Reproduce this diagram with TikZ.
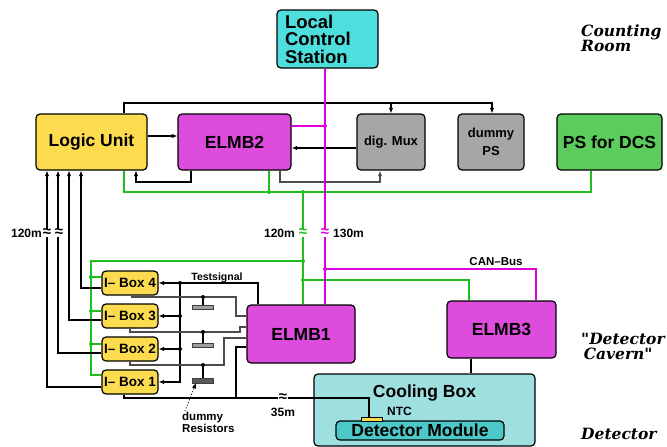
\documentclass[tikz,border=0pt]{standalone}
\usepackage{fontspec}
\setmainfont{Liberation Sans}
\newfontfamily\roomfont{DejaVu Serif}
\usetikzlibrary{arrows.meta}
\definecolor{cLCS}{RGB}{78,222,222}
\definecolor{cYel}{RGB}{252,220,78}
\definecolor{cMagF}{RGB}{222,76,222}
\definecolor{cGrayF}{RGB}{166,166,166}
\definecolor{cPS}{RGB}{92,204,92}
\definecolor{cCool}{RGB}{158,224,224}
\definecolor{cDM}{RGB}{76,200,200}
\definecolor{cGreenL}{RGB}{30,190,30}
\definecolor{cMagL}{RGB}{221,0,221}
\tikzset{
  box/.style={draw=black, line width=1.2pt, rounded corners=4pt, inner sep=0pt},
  fbig/.style={font=\fontsize{17.5}{17.5}\selectfont\bfseries},
  fmed/.style={font=\fontsize{13}{18}\selectfont\bfseries},
  fibox/.style={font=\fontsize{13.5}{13.5}\selectfont\bfseries},
  fsmall/.style={font=\fontsize{12}{12}\selectfont\bfseries},
  ftiny/.style={font=\fontsize{10.5}{11}\selectfont\bfseries},
  rlab/.style={font=\fontsize{15.5}{15}\selectfont\roomfont\bfseries\itshape, inner sep=0pt, align=left},
  lab/.style={inner sep=0pt},
  wire/.style={draw=black, line width=1.1pt},
  gwire/.style={draw=black!70, line width=1.1pt},
  gw/.style={draw=cGreenL, line width=1.5pt},
  mw/.style={draw=cMagL, line width=1.3pt},
  arr/.style={-{Latex[length=5.5pt,width=4.5pt]}},
  apx/.style={fill=white, inner xsep=0.5pt, inner ysep=0pt, font=\fontsize{15}{15}\selectfont\bfseries},
  res/.style={draw=black!75, line width=0.5pt, minimum width=21pt, minimum height=4.5pt, inner sep=0pt},
}
\begin{document}
\begin{tikzpicture}[x=1pt,y=-1pt]
\useasboundingbox (0,0) rectangle (667,447);

% boxes
\node[box, fill=cLCS, minimum width=101pt, minimum height=58pt, text width=85pt, align=left,
      font=\fontsize{18.5}{17.5}\selectfont\bfseries] (lcs) at (327.5,39) {Local\\Control\\Station};
\node[box, fill=cYel, minimum width=111pt, minimum height=56pt, fbig] (lu) at (91.5,142) {Logic Unit};
\node[box, fill=cMagF, minimum width=113pt, minimum height=56pt, fbig] (elmb2) at (234.5,142) {ELMB2\hspace{8pt}};
\node[box, fill=cGrayF, minimum width=68pt, minimum height=56pt, fmed] (digmux) at (391,142) {dig. Mux};
\node[box, fill=cGrayF, minimum width=66pt, minimum height=56pt, fmed, align=center] (dps) at (491,142) {dummy\\PS};
\node[box, fill=cPS, minimum width=105pt, minimum height=56pt, fbig] (psdcs) at (609.5,142) {PS for DCS};

\node[box, fill=cMagF, minimum width=108pt, minimum height=58pt, fbig] (elmb1) at (301,334) {ELMB1\hspace{8pt}};
\node[box, fill=cMagF, minimum width=109pt, minimum height=57pt, fbig] (elmb3) at (501.5,329.5) {ELMB3\hspace{22pt}};

\node[box, fill=cYel, minimum width=56pt, minimum height=24pt, fibox] (ib4) at (130,283) {I– Box 4};
\node[box, fill=cYel, minimum width=56pt, minimum height=24pt, fibox] (ib3) at (130,316) {I– Box 3};
\node[box, fill=cYel, minimum width=56pt, minimum height=24pt, fibox] (ib2) at (130,349) {I– Box 2};
\node[box, fill=cYel, minimum width=56pt, minimum height=24pt, fibox] (ib1) at (130,382) {I– Box 1};

\node[box, fill=cCool, minimum width=221pt, minimum height=72pt,
      label={[anchor=north, yshift=-8pt, fbig]north:Cooling Box}] (cool) at (424.5,410) {};
\node[box, fill=cDM, minimum width=168pt, minimum height=19pt, fbig] (dm) at (420,430.5) {Detector Module};
\node[draw=black, line width=0.6pt, fill=cYel, minimum width=21pt, minimum height=4pt, inner sep=0pt] (ntc) at (371.5,419) {};

\node[res, fill=black!38] (r1) at (202.5,307) {};
\node[res, fill=black!38] (r2) at (202.5,345) {};
\node[res, fill=black!65] (r3) at (202.5,380.5) {};

% labels
\node[lab, ftiny, anchor=base] (tsl) at (217,280) {Testsignal};
\node[lab, font=\fontsize{11.5}{11.5}\selectfont\bfseries, anchor=base] (canl) at (496,265) {CAN–Bus};
\node[lab, fsmall, anchor=base east] (l120a) at (42,237) {120m};
\node[lab, fsmall, anchor=base east] (l120b) at (295,237) {120m};
\node[lab, fsmall, anchor=base west] (l130) at (333,237) {130m};
\node[lab, fsmall, anchor=base] (l35) at (283,416) {35m};
\node[lab, fsmall, anchor=base west] (lntc) at (387,415) {NTC};
\node[lab, font=\fontsize{11.5}{10.5}\selectfont\bfseries, anchor=north west, align=left] (dres) at (182,412) {dummy\\Resistors};

\node[rlab, anchor=north west] (cr) at (581,25) {Counting\\Room};
\node[rlab, anchor=north west] (dc) at (581,333) {"Detector\\\,Cavern"};
\node[rlab, anchor=base west] (det) at (581,439) {Detector};

% top black bus
\draw[wire,arr] (lu.north -| 124,0) -- (124,103) -- (492,103) -- (dps.north -| 492,0);
\draw[wire,arr] (391,103) -- (digmux.north);
\draw[wire,arr] (lu.east |- 0,136) -- (elmb2.west |- 0,136);
\draw[wire,arr] (digmux.west |- 0,148) -- (elmb2.east |- 0,148);
\draw[wire,arr] (elmb2.south -| 191,0) -- (191,182) -- (136,182) -- (lu.south -| 136,0);
\draw[gwire,arr] (elmb2.south -| 280,0) -- (280,182) -- (380,182) -- (digmux.south -| 380,0);

% green power lines
\draw[gw] (lu.south -| 124,0) -- (124,192) -- (591,192) -- (psdcs.south -| 591,0);
\draw[gw] (elmb2.south -| 269,0) -- (269,192);
\draw[gw] (303,192) -- (elmb1.north -| 303,0);
\draw[gw] (303,261) -- (91,261) -- (91,375) -- (ib1.west |- 0,375);
\draw[gw] (91,277) -- (ib4.west |- 0,277);
\draw[gw] (91,311) -- (ib3.west |- 0,311);
\draw[gw] (91,344) -- (ib2.west |- 0,344);
\draw[gw] (303,280) -- (469,280) -- (elmb3.north -| 469,0);
\foreach \p in {(269,192),(303,192),(303,261),(303,280),(91,277),(91,311),(91,344)}
  \fill[cGreenL] \p circle[radius=2];

% magenta CAN bus
\draw[mw] (lcs.south -| 325,0) -- (elmb1.north -| 325,0);
\draw[mw] (elmb2.east |- 0,126) -- (325,126);
\draw[mw] (325,269) -- (536,269) -- (elmb3.north -| 536,0);
\foreach \p in {(325,126),(325,269)}
  \fill[cMagL] \p circle[radius=2];

% I-box to logic unit
\draw[wire,arr] (ib1.west |- 0,387) -- (47,387) -- (lu.south -| 47,0);
\draw[wire,arr] (ib2.west |- 0,353) -- (58,353) -- (lu.south -| 58,0);
\draw[wire,arr] (ib3.west |- 0,320) -- (69,320) -- (lu.south -| 69,0);
\draw[wire,arr] (ib4.west |- 0,288) -- (81,288) -- (lu.south -| 81,0);

% test signal
\draw[wire,arr] (elmb1.north -| 258,0) -- (258,283) -- (ib4.east);
\draw[wire,arr] (180,283) -- (180,382) -- (ib1.east);
\draw[wire,arr] (180,316) -- (ib3.east);
\draw[wire,arr] (180,349) -- (ib2.east);
\foreach \p in {(180,283),(180,316),(180,349)}
  \fill[black] \p circle[radius=2];

% I-box outputs to ELMB1
\draw[gwire] (ib4.south -| 132,0) -- (132,297) -- (236,297) -- (236,316) -- (elmb1.west |- 0,316);
\draw[gwire] (ib3.south -| 130,0) -- (130,332) -- (240,332) -- (240,327) -- (elmb1.west |- 0,327);
\draw[gwire] (ib2.south -| 130,0) -- (130,365) -- (224,365) -- (224,338) -- (elmb1.west |- 0,338);
\draw[wire] (203,297) -- (r1.north -| 203,0);
\draw[wire] (203,332) -- (r2.north -| 203,0);
\draw[wire] (203,365) -- (r3.north -| 203,0);
\foreach \p in {(203,297),(203,332),(203,365)}
  \fill[black] \p circle[radius=2];

% NTC readout
\draw[wire] (elmb1.west |- 0,347) -- (236,347) -- (236,398);
\draw[wire] (ib1.south -| 124,0) -- (124,398) -- (369,398) -- (ntc.north -| 369,0);
\draw[wire] (elmb3.south -| 471,0) -- (cool.north -| 471,0);

% dotted pointer
\draw[dotted, line width=0.9pt, arr] ([xshift=3pt,yshift=1pt]dres.north west) -- (r3.south -| 196,0);

% approx signs
\node[apx, text=black] (ax1) at (47,233) {≈};
\node[apx, text=black] (ax2) at (59,233) {≈};
\node[apx, text=cGreenL] (ax3) at (303,233) {≈};
\node[apx, text=cMagL] (ax4) at (325,233) {≈};
\node[apx, text=black] (ax5) at (283,398) {≈};
\end{tikzpicture}
\end{document}
